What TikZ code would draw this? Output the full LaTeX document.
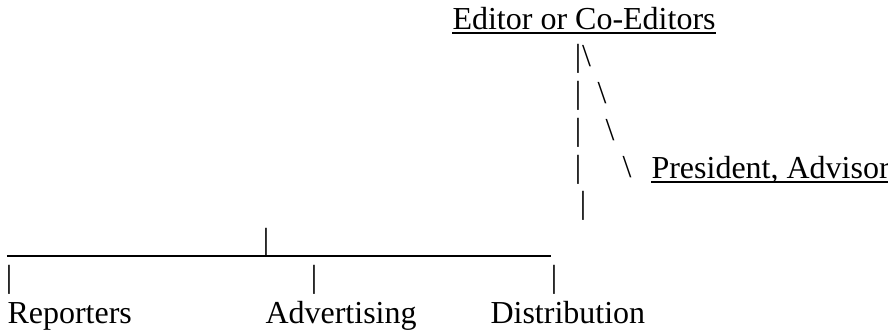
\documentclass[tikz,border=0pt]{standalone}
\usepackage{fontspec}
\setmainfont{Liberation Serif}

\begin{document}
\begin{tikzpicture}[x=0.375pt,y=-0.375pt,
		Label/.style={inner sep=0pt,anchor=base west,font=\fontsize{12}{14}\selectfont},
		Glyph/.style={inner sep=0pt,anchor=base,font=\fontsize{12}{14}\selectfont},
		Rule/.style={line width=0.6pt}]
		\useasboundingbox (0,0) rectangle (888,330);
		% nodes
		\node[Label] (Editor) at (452,29) {Editor or Co-Editors};
		\node[Label] (President) at (651,178) {President, Advisor};
		\node[Label] (Reporters) at (7,323) {Reporters};
		\node[Label] (Advertising) at (265,323) {Advertising};
		\node[Label] (Distribution) at (490,323) {Distribution};
		% bars and slashes
		\foreach \k/\yb in {1/66,2/103,3/140,4/177}
			\node[Glyph] (Bar\k) at (578,\yb) {|};
		\foreach \k/\xs/\yb in {1/586.5/66,2/602/103,3/610/140,4/627/177}
			\node[Glyph] (Slash\k) at (\xs,\yb) {\textbackslash};
		\node[Glyph] (Stem) at (583,213) {|};
		\node[Glyph] (Hub) at (266,250) {|};
		\node[Glyph] (ToReporters) at (9,287) {|};
		\node[Glyph] (ToAdvertising) at (314,287) {|};
		\node[Glyph] (ToDistribution) at (554,287) {|};
		% rules
		\coordinate (RowL) at (7,256);
		\coordinate (RowR) at (551,256);
		\draw[Rule] ([yshift=-1.5pt]Editor.base west) -- ([yshift=-1.5pt]Editor.base east);
		\draw[Rule] ([yshift=-1.5pt]President.base west) -- ([yshift=-1.5pt]President.base east);
		\draw[Rule] (RowL) -- (RowR);
	\end{tikzpicture}
\end{document}
